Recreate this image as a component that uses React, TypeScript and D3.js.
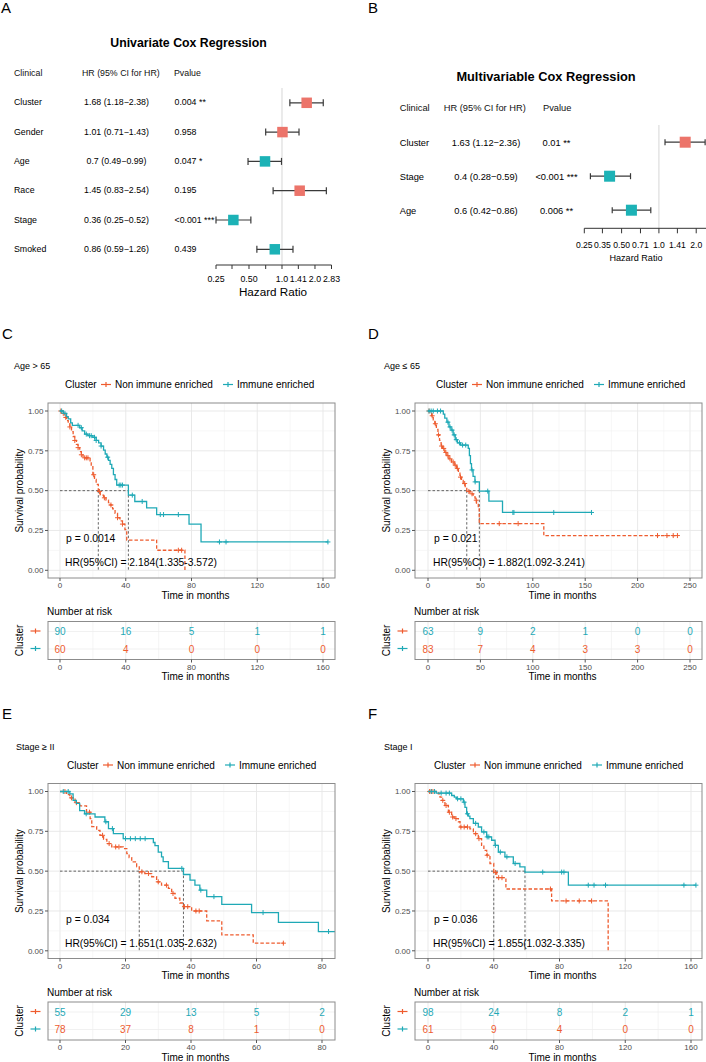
import * as d3 from "d3";
import React from "react";

const FONT = "'Liberation Sans', Arial, Helvetica, sans-serif";
const KM_RED = "#EE5C2F";
const KM_TEAL = "#1FA9B6";
const FP_RED = "#EC746A";
const FP_TEAL = "#1CB2B6";
const AXIS_TXT = "#4D4D4D";

// ---- univariate cox ----
const uniClinical = ["Cluster", "Gender", "Age", "Race", "Stage", "Smoked"];
const uniHR = [1.68, 1.01, 0.7, 1.45, 0.36, 0.86];
const uniLower = [1.18, 0.71, 0.49, 0.83, 0.25, 0.59];
const uniUpper = [2.38, 1.43, 0.99, 2.54, 0.52, 1.26];
const uniP = ["0.004 **", "0.958", "0.047 *", "0.195", "<0.001 ***", "0.439"];

// ---- multivariable cox ----
const multiClinical = ["Cluster", "Stage", "Age"];
const multiHR = [1.63, 0.4, 0.6];
const multiLower = [1.12, 0.28, 0.42];
const multiUpper = [2.36, 0.59, 0.86];
const multiP = ["0.01 **", "<0.001 ***", "0.006 **"];

const hrTicks = [0.25, 0.35, 0.5, 0.71, 1, 1.41, 2, 2.83];
const uniTickLabels = ["0.25", "", "0.50", "", "1.0", "1.41", "2.0", "2.83"];
const multiTickLabels = ["0.25", "0.35", "0.50", "0.71", "1.0", "1.41", "2.0", ""];

// ---- KM curves: [time, survival after the event] ----
type Step = [number, number];

const cTeal: Step[] = [[0, 1], [2, 0.985], [4, 0.965], [5, 0.95], [6.5, 0.925], [7.5, 0.91], [12, 0.895], [13.5, 0.875], [15, 0.855], [17, 0.845], [20, 0.835], [22, 0.815], [23.5, 0.8], [25, 0.78], [26.5, 0.755], [27.5, 0.73], [28.5, 0.71], [29.5, 0.69], [30.5, 0.665], [31.5, 0.64], [32.5, 0.6], [33.5, 0.57], [34.5, 0.535], [41.6, 0.472], [45.5, 0.432], [52.7, 0.392], [58.8, 0.35], [78.5, 0.29], [85.8, 0.178]];
const cTealCensor = [1, 3, 11, 13, 16, 18, 19, 21, 22, 25, 29, 36, 37, 38, 44, 50, 61, 63, 72, 97, 101, 163];
const cRed: Step[] = [[0, 1], [1.5, 0.985], [3, 0.96], [4, 0.94], [5, 0.92], [6, 0.9], [7, 0.87], [8, 0.84], [9, 0.815], [10, 0.79], [11, 0.77], [12, 0.745], [13, 0.725], [14, 0.706], [18.3, 0.68], [19, 0.65], [20, 0.6], [21, 0.57], [22, 0.54], [23.3, 0.495], [24.5, 0.472], [26.5, 0.455], [28, 0.44], [29.5, 0.425], [30.5, 0.41], [32, 0.385], [33.5, 0.357], [35, 0.33], [36.5, 0.31], [38, 0.29], [39.5, 0.255], [40.6, 0.19], [58.8, 0.126], [76, 0]];
const cRedCensor = [0.5, 2, 3.5, 6, 9, 11, 13, 15, 16, 17, 20.5, 24, 27, 31, 35, 38, 72, 74];

const dTeal: Step[] = [[0, 1], [14.6, 0.98], [16, 0.955], [18, 0.93], [20, 0.9], [22, 0.88], [24, 0.85], [26, 0.82], [28, 0.8], [31, 0.786], [38.4, 0.765], [39.5, 0.72], [40.5, 0.67], [41.5, 0.63], [43, 0.59], [44.8, 0.555], [49, 0.497], [58.1, 0.434], [71.1, 0.363]];
const dTealCensor = [1, 3, 5, 9, 12, 19, 21, 23, 25, 27, 30, 33, 36, 42, 45, 57, 81, 82, 120, 156];
const dRed: Step[] = [[0, 1], [2, 0.985], [3.5, 0.97], [5, 0.945], [6.5, 0.92], [8, 0.885], [9.5, 0.85], [11, 0.815], [12.5, 0.78], [14, 0.765], [16, 0.74], [18, 0.72], [20, 0.7], [22.5, 0.68], [25, 0.66], [27.3, 0.64], [29, 0.61], [30.5, 0.585], [32, 0.565], [33.6, 0.545], [35.5, 0.52], [37, 0.495], [40, 0.48], [43.1, 0.461], [45, 0.44], [46.3, 0.42], [48, 0.39], [48.9, 0.293], [110.5, 0.218]];
const dRedCensor = [1, 4, 7, 10, 13, 15, 17, 19, 21, 24, 26, 28, 31, 35, 39, 42, 46, 68, 86, 219, 228, 234, 238];

const eTeal: Step[] = [[0, 1], [3, 0.985], [4, 0.944], [5, 0.925], [6, 0.88], [7.5, 0.86], [10.7, 0.84], [13.7, 0.81], [14.8, 0.767], [16.3, 0.735], [19.3, 0.704], [28.5, 0.68], [29, 0.66], [30, 0.62], [31, 0.59], [31.5, 0.56], [33.1, 0.517], [37.7, 0.479], [39.7, 0.444], [41.2, 0.412], [42.7, 0.381], [44.8, 0.34], [49.4, 0.291], [58.5, 0.24], [66.7, 0.178], [78.9, 0.121]];
const eTealCensor = [1, 2.5, 8, 14, 16, 20, 21.5, 23, 24.5, 26, 37.2, 43, 47, 62, 82];
const eRed: Step[] = [[0, 1], [2, 0.98], [3, 0.96], [4.6, 0.93], [6.1, 0.91], [8.1, 0.87], [9.2, 0.83], [9.7, 0.78], [11.2, 0.756], [12.2, 0.725], [13.3, 0.7], [14.3, 0.673], [15.8, 0.652], [19.3, 0.642], [20.4, 0.61], [21.1, 0.585], [21.9, 0.558], [23.4, 0.527], [24.2, 0.496], [25.9, 0.485], [28, 0.465], [29.5, 0.433], [31, 0.412], [33.1, 0.392], [34.1, 0.36], [35.1, 0.33], [36.6, 0.3], [37.7, 0.277], [40.2, 0.25], [44.8, 0.188], [49.4, 0.1], [59, 0.048]];
const eRedCensor = [1.5, 3.5, 5, 9, 13, 15, 17, 18, 25, 27, 30, 32.5, 34.5, 38, 39, 41.5, 42.5, 68.2];

const fTeal: Step[] = [[0, 1], [5, 0.99], [14.4, 0.975], [16, 0.965], [17.4, 0.954], [21.5, 0.933], [22.5, 0.9], [23.5, 0.86], [24.5, 0.845], [25.5, 0.83], [27.6, 0.8], [30.6, 0.777], [32.6, 0.746], [35.7, 0.715], [38.7, 0.694], [40.8, 0.662], [42.8, 0.62], [46.8, 0.59], [51.9, 0.548], [55.9, 0.527], [59, 0.494], [85.4, 0.412]];
const fTealCensor = [2, 4, 8, 11, 13, 18, 20, 22, 24, 29, 34, 36, 37, 41, 44, 48, 53, 69.8, 81.3, 82.7, 97.5, 101, 108, 155.7, 163];
const fRed: Step[] = [[0, 1], [6.3, 0.985], [7.3, 0.965], [8.3, 0.944], [10.3, 0.912], [12.4, 0.87], [14.4, 0.84], [16.4, 0.83], [18.5, 0.81], [19.5, 0.777], [25.5, 0.766], [27.6, 0.735], [30.6, 0.704], [32.6, 0.662], [34, 0.63], [35.7, 0.6], [37.7, 0.548], [40, 0.492], [41.8, 0.459], [47.4, 0.388], [75.2, 0.313], [109.6, 0]];
const fRedCensor = [1, 2, 3, 9, 11, 13, 15, 17, 20, 22, 24, 29, 31, 36, 41, 43, 45, 74.5, 84, 92, 99.5];

const cTicks = [0, 40, 80, 120, 160];
const dTicks = [0, 50, 100, 150, 200, 250];
const eTicks = [0, 20, 40, 60, 80];
const fTicks = [0, 40, 80, 120, 160];

const cRiskTop = [90, 16, 5, 1, 1];
const cRiskBottom = [60, 4, 0, 0, 0];
const dRiskTop = [63, 9, 2, 1, 0, 0];
const dRiskBottom = [83, 7, 4, 3, 3, 0];
const eRiskTop = [55, 29, 13, 5, 2];
const eRiskBottom = [78, 37, 8, 1, 0];
const fRiskTop = [98, 24, 8, 2, 1];
const fRiskBottom = [61, 9, 4, 0, 0];

const survTicks = [0, 0.25, 0.5, 0.75, 1];

function survAt(steps: Step[], t: number) {
  let s = 1;
  for (const [tt, ss] of steps) {
    if (tt <= t) s = ss;
    else break;
  }
  return s;
}

function medianTime(steps: Step[]) {
  const hit = steps.find((d) => d[1] <= 0.5);
  return hit ? hit[0] : null;
}

// ---------------- forest plot ----------------
type ForestProps = {
  letter: string; letterX: number;
  title: string; titleX: number; titleY: number; titleSize: number;
  headerY: number; clinX: number; hrHeadX: number; hrX: number; pHeadX: number; pX: number; pAnchor: "start" | "middle";
  textSize: number;
  clinical: string[]; hr: number[]; lo: number[]; hi: number[]; pv: string[];
  rowY0: number; rowStep: number; pointOffset: number;
  range: [number, number];
  refTop: number; axisY: number; tickLen: number;
  tickLabels: string[]; tickLabelY: number; tickSize: number;
  axisTitleX: number; axisTitleY: number; axisTitleSize: number;
  box: number; cap: number;
};

function Forest(p: ForestProps) {
  const x = d3.scaleLog().base(2).domain([0.25, 2.83]).range(p.range);
  const fmt = (v: number) => String(v);
  return (
    <g>
      <text x={p.letterX} y={13} fontSize={15}>{p.letter}</text>
      <text x={p.titleX} y={p.titleY} fontSize={p.titleSize} fontWeight="bold" textAnchor="middle">{p.title}</text>
      <g fontSize={p.textSize} fill="#111">
        <text x={p.clinX} y={p.headerY}>Clinical</text>
        <text x={p.hrHeadX} y={p.headerY}>HR (95% CI for HR)</text>
        <text x={p.pHeadX} y={p.headerY}>Pvalue</text>
      </g>
      <line x1={x(1)} x2={x(1)} y1={p.refTop} y2={p.axisY} stroke="#D6D6D6" strokeWidth={1} />
      {p.clinical.map((name, i) => {
        const ty = p.rowY0 + i * p.rowStep;
        const cy = ty - p.pointOffset;
        const col = p.hr[i] >= 1 ? FP_RED : FP_TEAL;
        return (
          <g key={name}>
            <text x={p.clinX} y={ty} fontSize={p.textSize}>{name}</text>
            <text x={p.hrX} y={ty} fontSize={p.textSize} textAnchor="middle">
              {`${fmt(p.hr[i])} (${fmt(p.lo[i])}\u2212${fmt(p.hi[i])})`}
            </text>
            <text x={p.pX} y={ty} fontSize={p.textSize} textAnchor={p.pAnchor}>{p.pv[i]}</text>
            <line x1={x(p.lo[i])} x2={x(p.hi[i])} y1={cy} y2={cy} stroke="#3A3A3A" strokeWidth={1.2} />
            <line x1={x(p.lo[i])} x2={x(p.lo[i])} y1={cy - p.cap / 2} y2={cy + p.cap / 2} stroke="#3A3A3A" strokeWidth={1.2} />
            <line x1={x(p.hi[i])} x2={x(p.hi[i])} y1={cy - p.cap / 2} y2={cy + p.cap / 2} stroke="#3A3A3A" strokeWidth={1.2} />
            <rect x={x(p.hr[i]) - p.box / 2} y={cy - p.box / 2} width={p.box} height={p.box} fill={col} />
          </g>
        );
      })}
      <line x1={x(0.25)} x2={x(2.83)} y1={p.axisY} y2={p.axisY} stroke="#333" strokeWidth={1} />
      {hrTicks.map((t, i) => (
        <g key={t}>
          <line x1={x(t)} x2={x(t)} y1={p.axisY} y2={p.axisY + p.tickLen} stroke="#333" strokeWidth={1} />
          {p.tickLabels[i] && (
            <text x={x(t)} y={p.tickLabelY} fontSize={p.tickSize} textAnchor="middle">{p.tickLabels[i]}</text>
          )}
        </g>
      ))}
      <text x={p.axisTitleX} y={p.axisTitleY} fontSize={p.axisTitleSize} textAnchor="middle">Hazard Ratio</text>
    </g>
  );
}

// ---------------- KM panel ----------------
const ROW = {
  letterY: 338.5, subY: 369, legendY: 388, top: 403, yOne: 411, yZero: 570.3, bottom: 578,
  tickY: 588, titleY: 598.5, narY: 615, tTop: 621.5, tBottom: 659.5, r1: 635, r2: 652.5, tTickY: 669.5, tTitleY: 680.3,
};

type Curve = { steps: Step[]; end: number; censor: number[] };

type KMProps = {
  dy: number; letter: string; letterX: number; sub: string; subX: number; legendX: number;
  left: number; right: number; x0: number; x1: number; ticks: number[];
  red: Curve; teal: Curve; pText: string; hrText: string;
  riskTop: number[]; riskBottom: number[];
};

function Marker({ x, y, color }: { x: number; y: number; color: string }) {
  return (
    <g stroke={color} strokeWidth={1}>
      <line x1={x - 2.5} x2={x + 2.5} y1={y} y2={y} />
      <line x1={x} x2={x} y1={y - 2.5} y2={y + 2.5} />
    </g>
  );
}

function LegendKey({ x, y, color }: { x: number; y: number; color: string }) {
  return (
    <g stroke={color} strokeWidth={1.2}>
      <line x1={x - 5} x2={x + 5} y1={y} y2={y} />
      <line x1={x} x2={x} y1={y - 2.5} y2={y + 2.5} />
    </g>
  );
}

function KM(p: KMProps) {
  const r = Object.fromEntries(Object.entries(ROW).map(([k, v]) => [k, v + p.dy])) as typeof ROW;
  const maxT = p.ticks[p.ticks.length - 1];
  const x = d3.scaleLinear().domain([0, maxT]).range([p.x0, p.x1]);
  const y = d3.scaleLinear().domain([0, 1]).range([r.yZero, r.yOne]);
  const step = p.ticks[1] - p.ticks[0];
  const tMin = x.invert(p.left), tMax = x.invert(p.right);
  const xGrid = d3.range(Math.ceil(tMin / (step / 2)) * (step / 2), tMax, step / 2);
  const yGrid = d3.range(0, 1.0001, 0.125);
  const line = d3.line<Step>().x((d) => x(d[0])).y((d) => y(d[1])).curve(d3.curveStepAfter);
  const clipId = `clip-${p.letter}`;
  const curves = [
    { c: p.red, color: KM_RED, dash: "3.5,2" },
    { c: p.teal, color: KM_TEAL, dash: undefined },
  ];
  const medians = [medianTime(p.red.steps), medianTime(p.teal.steps)].filter((m): m is number => m !== null);
  const maxMed = d3.max(medians) ?? 0;
  const yMid = (r.yOne + r.yZero) / 2;
  const rowsMid = (r.tTop + r.tBottom) / 2;

  return (
    <g>
      <defs>
        <clipPath id={clipId}>
          <rect x={p.left} y={r.top} width={p.right - p.left} height={r.bottom - r.top} />
        </clipPath>
      </defs>
      <text x={p.letterX} y={r.letterY} fontSize={15}>{p.letter}</text>
      <text x={p.subX} y={r.subY} fontSize={9}>{p.sub}</text>

      {/* legend */}
      <g fontSize={10}>
        <text x={p.legendX} y={r.legendY}>Cluster</text>
        <LegendKey x={p.legendX + 41} y={r.legendY - 3.5} color={KM_RED} />
        <text x={p.legendX + 50} y={r.legendY}>Non immune enriched</text>
        <LegendKey x={p.legendX + 163} y={r.legendY - 3.5} color={KM_TEAL} />
        <text x={p.legendX + 172} y={r.legendY}>Immune enriched</text>
      </g>

      {/* survival panel */}
      <rect x={p.left} y={r.top} width={p.right - p.left} height={r.bottom - r.top} fill="#fff" />
      <g clipPath={`url(#${clipId})`}>
        {xGrid.map((t) => (
          <line key={`xg${t}`} x1={x(t)} x2={x(t)} y1={r.top} y2={r.bottom} stroke={p.ticks.includes(t) ? "#E6E6E6" : "#F1F1F1"} strokeWidth={p.ticks.includes(t) ? 0.9 : 0.6} />
        ))}
        {yGrid.map((s, i) => (
          <line key={`yg${s}`} x1={p.left} x2={p.right} y1={y(s)} y2={y(s)} stroke={i % 2 === 0 ? "#E6E6E6" : "#F1F1F1"} strokeWidth={i % 2 === 0 ? 0.9 : 0.6} />
        ))}
        {/* median guides */}
        <line x1={x(0)} x2={x(maxMed)} y1={y(0.5)} y2={y(0.5)} stroke="#555" strokeWidth={0.9} strokeDasharray="2.5,2" />
        {medians.map((m) => (
          <line key={`m${m}`} x1={x(m)} x2={x(m)} y1={y(0.5)} y2={y(0)} stroke="#555" strokeWidth={0.9} strokeDasharray="2.5,2" />
        ))}
        {curves.map(({ c, color, dash }) => {
          const pts: Step[] = [...c.steps, [c.end, c.steps[c.steps.length - 1][1]]];
          return (
            <g key={color}>
              <path d={line(pts) ?? ""} fill="none" stroke={color} strokeWidth={1.3} strokeDasharray={dash} />
              {c.censor.map((t, i) => (
                <Marker key={i} x={x(t)} y={y(survAt(c.steps, t))} color={color} />
              ))}
            </g>
          );
        })}
      </g>
      <rect x={p.left} y={r.top} width={p.right - p.left} height={r.bottom - r.top} fill="none" stroke="#8C8C8C" strokeWidth={1} />
      <text x={x(0) + 6} y={r.yZero - 28} fontSize={10.4}>{p.pText}</text>
      <text x={x(0) + 5} y={r.yZero - 4} fontSize={10.3}>{p.hrText}</text>

      {/* axes */}
      {survTicks.map((s) => (
        <g key={`yt${s}`}>
          <line x1={p.left - 3} x2={p.left} y1={y(s)} y2={y(s)} stroke="#555" />
          <text x={p.left - 4.5} y={y(s) + 2.8} fontSize={8} textAnchor="end" fill={AXIS_TXT}>{s.toFixed(2)}</text>
        </g>
      ))}
      {p.ticks.map((t) => (
        <g key={`xt${t}`}>
          <line x1={x(t)} x2={x(t)} y1={r.bottom} y2={r.bottom + 3} stroke="#555" />
          <text x={x(t)} y={r.tickY} fontSize={8} textAnchor="middle" fill={AXIS_TXT}>{t}</text>
        </g>
      ))}
      <text x={(p.left + p.right) / 2 + 4} y={r.titleY} fontSize={10} textAnchor="middle">Time in months</text>
      <text transform={`translate(${p.left - 25.5},${yMid}) rotate(-90)`} fontSize={10} textAnchor="middle">Survival probability</text>

      {/* number at risk */}
      <text x={p.left - 1} y={r.narY} fontSize={10}>Number at risk</text>
      <rect x={p.left} y={r.tTop} width={p.right - p.left} height={r.tBottom - r.tTop} fill="#fff" />
      {xGrid.map((t) => (
        <line key={`tg${t}`} x1={x(t)} x2={x(t)} y1={r.tTop} y2={r.tBottom} stroke={p.ticks.includes(t) ? "#E6E6E6" : "#F1F1F1"} strokeWidth={0.8} />
      ))}
      {[r.r1 - 3.5, r.r2 - 3.5].map((ry) => (
        <line key={`tr${ry}`} x1={p.left} x2={p.right} y1={ry} y2={ry} stroke="#EDEDED" strokeWidth={0.8} />
      ))}
      <rect x={p.left} y={r.tTop} width={p.right - p.left} height={r.tBottom - r.tTop} fill="none" stroke="#8C8C8C" strokeWidth={1} />
      {p.ticks.map((t, i) => (
        <g key={`rk${t}`} fontSize={10} textAnchor="middle">
          <text x={x(t)} y={r.r1} fill={KM_TEAL}>{p.riskTop[i]}</text>
          <text x={x(t)} y={r.r2} fill={KM_RED}>{p.riskBottom[i]}</text>
          <line x1={x(t)} x2={x(t)} y1={r.tBottom} y2={r.tBottom + 3} stroke="#555" />
          <text x={x(t)} y={r.tTickY} fontSize={8} fill={AXIS_TXT}>{t}</text>
        </g>
      ))}
      <LegendKey x={p.left - 12.5} y={r.r1 - 4} color={KM_RED} />
      <LegendKey x={p.left - 12.5} y={r.r2 - 4} color={KM_TEAL} />
      <text x={(p.left + p.right) / 2 + 4} y={r.tTitleY} fontSize={10} textAnchor="middle">Time in months</text>
      <text transform={`translate(${p.left - 25},${rowsMid}) rotate(-90)`} fontSize={10} textAnchor="middle">Cluster</text>
    </g>
  );
}

export default function App() {
  return (
    <svg width={706} height={1062} style={{ position: "absolute", left: 0, top: 0 }} fontFamily={FONT}>
      <rect width={706} height={1062} fill="#fff" />
      <Forest
        letter="A" letterX={1}
        title="Univariate Cox Regression" titleX={188.5} titleY={46.5} titleSize={12.3}
        headerY={76} clinX={14} hrHeadX={82} hrX={116.5} pHeadX={174} pX={174.5} pAnchor="start"
        textSize={8.8}
        clinical={uniClinical} hr={uniHR} lo={uniLower} hi={uniUpper} pv={uniP}
        rowY0={105.3} rowStep={29.3} pointOffset={2.5}
        range={[216, 331.5]}
        refTop={88} axisY={265} tickLen={4}
        tickLabels={uniTickLabels} tickLabelY={282} tickSize={8.8}
        axisTitleX={273} axisTitleY={296} axisTitleSize={11.7}
        box={10.5} cap={7}
      />
      <Forest
        letter="B" letterX={368}
        title="Multivariable Cox Regression" titleX={546} titleY={80.5} titleSize={12.8}
        headerY={111} clinX={399.7} hrHeadX={443.7} hrX={486} pHeadX={543} pX={556.5} pAnchor="middle"
        textSize={9.3}
        clinical={multiClinical} hr={multiHR} lo={multiLower} hi={multiUpper} pv={multiP}
        rowY0={146} rowStep={34} pointOffset={3.8}
        range={[584.3, 714.9]}
        refTop={125} axisY={228.3} tickLen={5}
        tickLabels={multiTickLabels} tickLabelY={248} tickSize={8.6}
        axisTitleX={636} axisTitleY={261} axisTitleSize={9.1}
        box={11} cap={6}
      />
      <KM dy={0} letter="C" letterX={2} sub="Age > 65" subX={14} legendX={65}
        left={48} right={335} x0={60} x1={323} ticks={cTicks}
        red={{ steps: cRed, end: 76, censor: cRedCensor }}
        teal={{ steps: cTeal, end: 163, censor: cTealCensor }}
        pText="p = 0.0014" hrText="HR(95%CI) = 2.184(1.335-3.572)"
        riskTop={cRiskTop} riskBottom={cRiskBottom} />
      <KM dy={0} letter="D" letterX={368} sub={"Age \u2264 65"} subX={384} legendX={436}
        left={415} right={702} x0={428} x1={690} ticks={dTicks}
        red={{ steps: dRed, end: 238, censor: dRedCensor }}
        teal={{ steps: dTeal, end: 156, censor: dTealCensor }}
        pText="p = 0.021" hrText="HR(95%CI) = 1.882(1.092-3.241)"
        riskTop={dRiskTop} riskBottom={dRiskBottom} />
      <KM dy={380.5} letter="E" letterX={2} sub={"Stage \u2265 II"} subX={16} legendX={67}
        left={48} right={335} x0={60} x1={322} ticks={eTicks}
        red={{ steps: eRed, end: 68.2, censor: eRedCensor }}
        teal={{ steps: eTeal, end: 85, censor: eTealCensor }}
        pText="p = 0.034" hrText="HR(95%CI) = 1.651(1.035-2.632)"
        riskTop={eRiskTop} riskBottom={eRiskBottom} />
      <KM dy={380.5} letter="F" letterX={368} sub="Stage I" subX={384} legendX={434}
        left={415} right={702} x0={428} x1={691} ticks={fTicks}
        red={{ steps: fRed, end: 109.6, censor: fRedCensor }}
        teal={{ steps: fTeal, end: 163, censor: fTealCensor }}
        pText="p = 0.036" hrText="HR(95%CI) = 1.855(1.032-3.335)"
        riskTop={fRiskTop} riskBottom={fRiskBottom} />
    </svg>
  );
}
